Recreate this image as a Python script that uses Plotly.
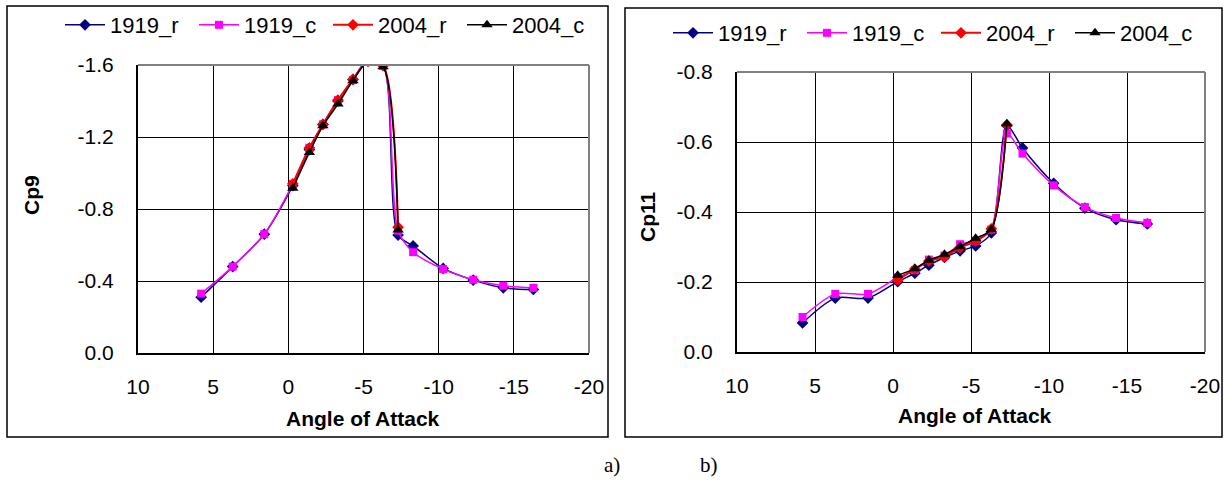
import plotly.graph_objects as go

# ---------------- data ----------------
angle_1919 = [5.8, 3.7, 1.6, -0.3, -1.4, -2.3, -3.3, -4.3, -5.3, -6.3, -7.3, -8.3, -10.3, -12.3, -14.3, -16.3]
angle_2004 = [-0.3, -1.4, -2.3, -3.3, -4.3, -5.3, -6.3, -7.3]

cp9_1919_r = [-0.31, -0.48, -0.66, -0.93, -1.13, -1.27, -1.40, -1.52, -1.63, -1.60, -0.655, -0.595, -0.47, -0.405, -0.362, -0.353]
cp9_1919_c = [-0.33, -0.48, -0.66, -0.94, -1.14, -1.27, -1.405, -1.516, -1.63, -1.596, -0.68, -0.56, -0.466, -0.407, -0.374, -0.362]
cp9_2004_r = [-0.94, -1.14, -1.27, -1.405, -1.52, -1.62, -1.596, -0.699]
cp9_2004_c = [-0.915, -1.114, -1.262, -1.383, -1.513, -1.62, -1.59, -0.684]

cp11_1919_r = [-0.083, -0.154, -0.154, -0.201, -0.225, -0.248, -0.27, -0.289, -0.303, -0.34, -0.647, -0.583, -0.482, -0.411, -0.378, -0.366]
cp11_1919_c = [-0.100, -0.166, -0.166, -0.213, -0.234, -0.264, -0.275, -0.308, -0.318, -0.35, -0.624, -0.567, -0.476, -0.414, -0.383, -0.369]
cp11_2004_r = [-0.206, -0.237, -0.26, -0.272, -0.298, -0.317, -0.352, -0.649]
cp11_2004_c = [-0.219, -0.238, -0.262, -0.279, -0.301, -0.325, -0.35, -0.652]

series_names = ["1919_r", "1919_c", "2004_r", "2004_c"]

x_tick_vals = [10, 5, 0, -5, -10, -15, -20]
x_tick_text = ["10", "5", "0", "-5", "-10", "-15", "-20"]
y9_tick_vals = [0.0, -0.4, -0.8, -1.2, -1.6]
y9_tick_text = ["0.0", "-0.4", "-0.8", "-1.2", "-1.6"]
y11_tick_vals = [0.0, -0.2, -0.4, -0.6, -0.8]
y11_tick_text = ["0.0", "-0.2", "-0.4", "-0.6", "-0.8"]

x_title = "Angle of Attack"
y_titles = ["Cp9", "Cp11"]
panel_labels = ["a)", "b)"]

# ---------------- styling ----------------
W, H = 1225, 481
FONT = "Arial, Liberation Sans, sans-serif"
styles = {
    "1919_r": dict(color="#000080", symbol="diamond", size=9, width=1.5),
    "1919_c": dict(color="#FF00FF", symbol="square", size=8, width=1.5),
    "2004_r": dict(color="#FF0000", symbol="diamond", size=9, width=2),
    "2004_c": dict(color="#000000", symbol="triangle-up", size=10, width=1.5),
}

def px(x):
    return x / W

def py(y):
    return 1 - y / H

fig = go.Figure()

panels = [
    dict(xa="x", ya="y", legend="legend",
         data={"1919_r": (angle_1919, cp9_1919_r), "1919_c": (angle_1919, cp9_1919_c),
               "2004_r": (angle_2004, cp9_2004_r), "2004_c": (angle_2004, cp9_2004_c)}),
    dict(xa="x2", ya="y2", legend="legend2",
         data={"1919_r": (angle_1919, cp11_1919_r), "1919_c": (angle_1919, cp11_1919_c),
               "2004_r": (angle_2004, cp11_2004_r), "2004_c": (angle_2004, cp11_2004_c)}),
]

for p in panels:
    for name in series_names:
        xs, ys = p["data"][name]
        s = styles[name]
        fig.add_trace(go.Scatter(
            x=xs, y=ys, name=name, mode="lines+markers",
            xaxis=p["xa"], yaxis=p["ya"], legend=p["legend"],
            line=dict(color=s["color"], width=s["width"], shape="spline", smoothing=0.8),
            marker=dict(color=s["color"], symbol=s["symbol"], size=s["size"],
                        line=dict(width=0)),
        ))

# plot-area pixel boxes
L_box = dict(x0=138, x1=589, y0=65, y1=353)
R_box = dict(x0=737, x1=1205, y0=72, y1=352)

axis_common = dict(
    showgrid=True, gridcolor="#000000", gridwidth=1.3,
    zeroline=False, showline=True, linecolor="#000000", linewidth=2,
    ticks="", automargin=False,
    tickfont=dict(family=FONT, size=21, color="#000000"),
)

fig.update_layout(
    template="none",
    width=W, height=H,
    margin=dict(l=0, r=0, t=0, b=0, pad=0, autoexpand=False),
    paper_bgcolor="white", plot_bgcolor="white",
    showlegend=True,
    xaxis=dict(domain=[px(L_box["x0"]), px(L_box["x1"])], range=[10, -20],
               tickvals=x_tick_vals, ticktext=x_tick_text, anchor="y",
               ticklabelstandoff=14, **axis_common),
    yaxis=dict(domain=[py(L_box["y1"]), py(L_box["y0"])], range=[0, -1.6],
               tickvals=y9_tick_vals, ticktext=y9_tick_text, anchor="x",
               ticklabelstandoff=18, **axis_common),
    xaxis2=dict(domain=[px(R_box["x0"]), px(R_box["x1"])], range=[10, -20],
                tickvals=x_tick_vals, ticktext=x_tick_text, anchor="y2",
                ticklabelstandoff=14, **axis_common),
    yaxis2=dict(domain=[py(R_box["y1"]), py(R_box["y0"])], range=[0, -0.8],
                tickvals=y11_tick_vals, ticktext=y11_tick_text, anchor="x2",
                ticklabelstandoff=18, **axis_common),
    legend=dict(orientation="h", x=px(60), y=py(25), xanchor="left", yanchor="middle",
                font=dict(family=FONT, size=22, color="#000000"), itemwidth=40,
                entrywidth=79, bgcolor="rgba(0,0,0,0)", borderwidth=0),
    legend2=dict(orientation="h", x=px(668), y=py(33), xanchor="left", yanchor="middle",
                 font=dict(family=FONT, size=22, color="#000000"), itemwidth=40,
                 entrywidth=79, bgcolor="rgba(0,0,0,0)", borderwidth=0),
)

shapes = []
# chart frames
for (x0, y0, x1, y1) in [(7, 6, 608, 437), (625, 8, 1222, 437)]:
    shapes.append(dict(type="rect", xref="paper", yref="paper",
                       x0=px(x0), x1=px(x1), y0=py(y1), y1=py(y0),
                       line=dict(color="#000000", width=1.5), layer="below"))
# gray plot-area top/right borders
for xa in ["x", "x2"]:
    ya = "y" if xa == "x" else "y2"
    shapes.append(dict(type="line", xref=f"{xa} domain", yref=f"{ya} domain",
                       x0=0, x1=1, y0=1, y1=1, line=dict(color="#808080", width=2), layer="above"))
    shapes.append(dict(type="line", xref=f"{xa} domain", yref=f"{ya} domain",
                       x0=1, x1=1, y0=0, y1=1, line=dict(color="#808080", width=2), layer="above"))
fig.update_layout(shapes=shapes)

annotations = [
    dict(text=f"<b>{x_title}</b>", x=px(363), y=py(418), xref="paper", yref="paper",
         showarrow=False, xanchor="center", yanchor="middle",
         font=dict(family=FONT, size=21, color="#000000")),
    dict(text=f"<b>{x_title}</b>", x=px(975), y=py(415), xref="paper", yref="paper",
         showarrow=False, xanchor="center", yanchor="middle",
         font=dict(family=FONT, size=21, color="#000000")),
    dict(text=f"<b>{y_titles[0]}</b>", x=px(31), y=py(195), xref="paper", yref="paper",
         showarrow=False, xanchor="center", yanchor="middle", textangle=-90,
         font=dict(family=FONT, size=21, color="#000000")),
    dict(text=f"<b>{y_titles[1]}</b>", x=px(648), y=py(217), xref="paper", yref="paper",
         showarrow=False, xanchor="center", yanchor="middle", textangle=-90,
         font=dict(family=FONT, size=21, color="#000000")),
    dict(text=panel_labels[0], x=px(612), y=py(465), xref="paper", yref="paper",
         showarrow=False, xanchor="center", yanchor="middle",
         font=dict(family="Liberation Serif, Times New Roman, serif", size=21, color="#000000")),
    dict(text=panel_labels[1], x=px(709), y=py(465), xref="paper", yref="paper",
         showarrow=False, xanchor="center", yanchor="middle",
         font=dict(family="Liberation Serif, Times New Roman, serif", size=21, color="#000000")),
]
fig.update_layout(annotations=annotations)

fig.write_html(
    "out.html",
    config={"displayModeBar": False},
    post_script="document.body.style.margin='0';document.body.style.overflow='hidden';",
)
